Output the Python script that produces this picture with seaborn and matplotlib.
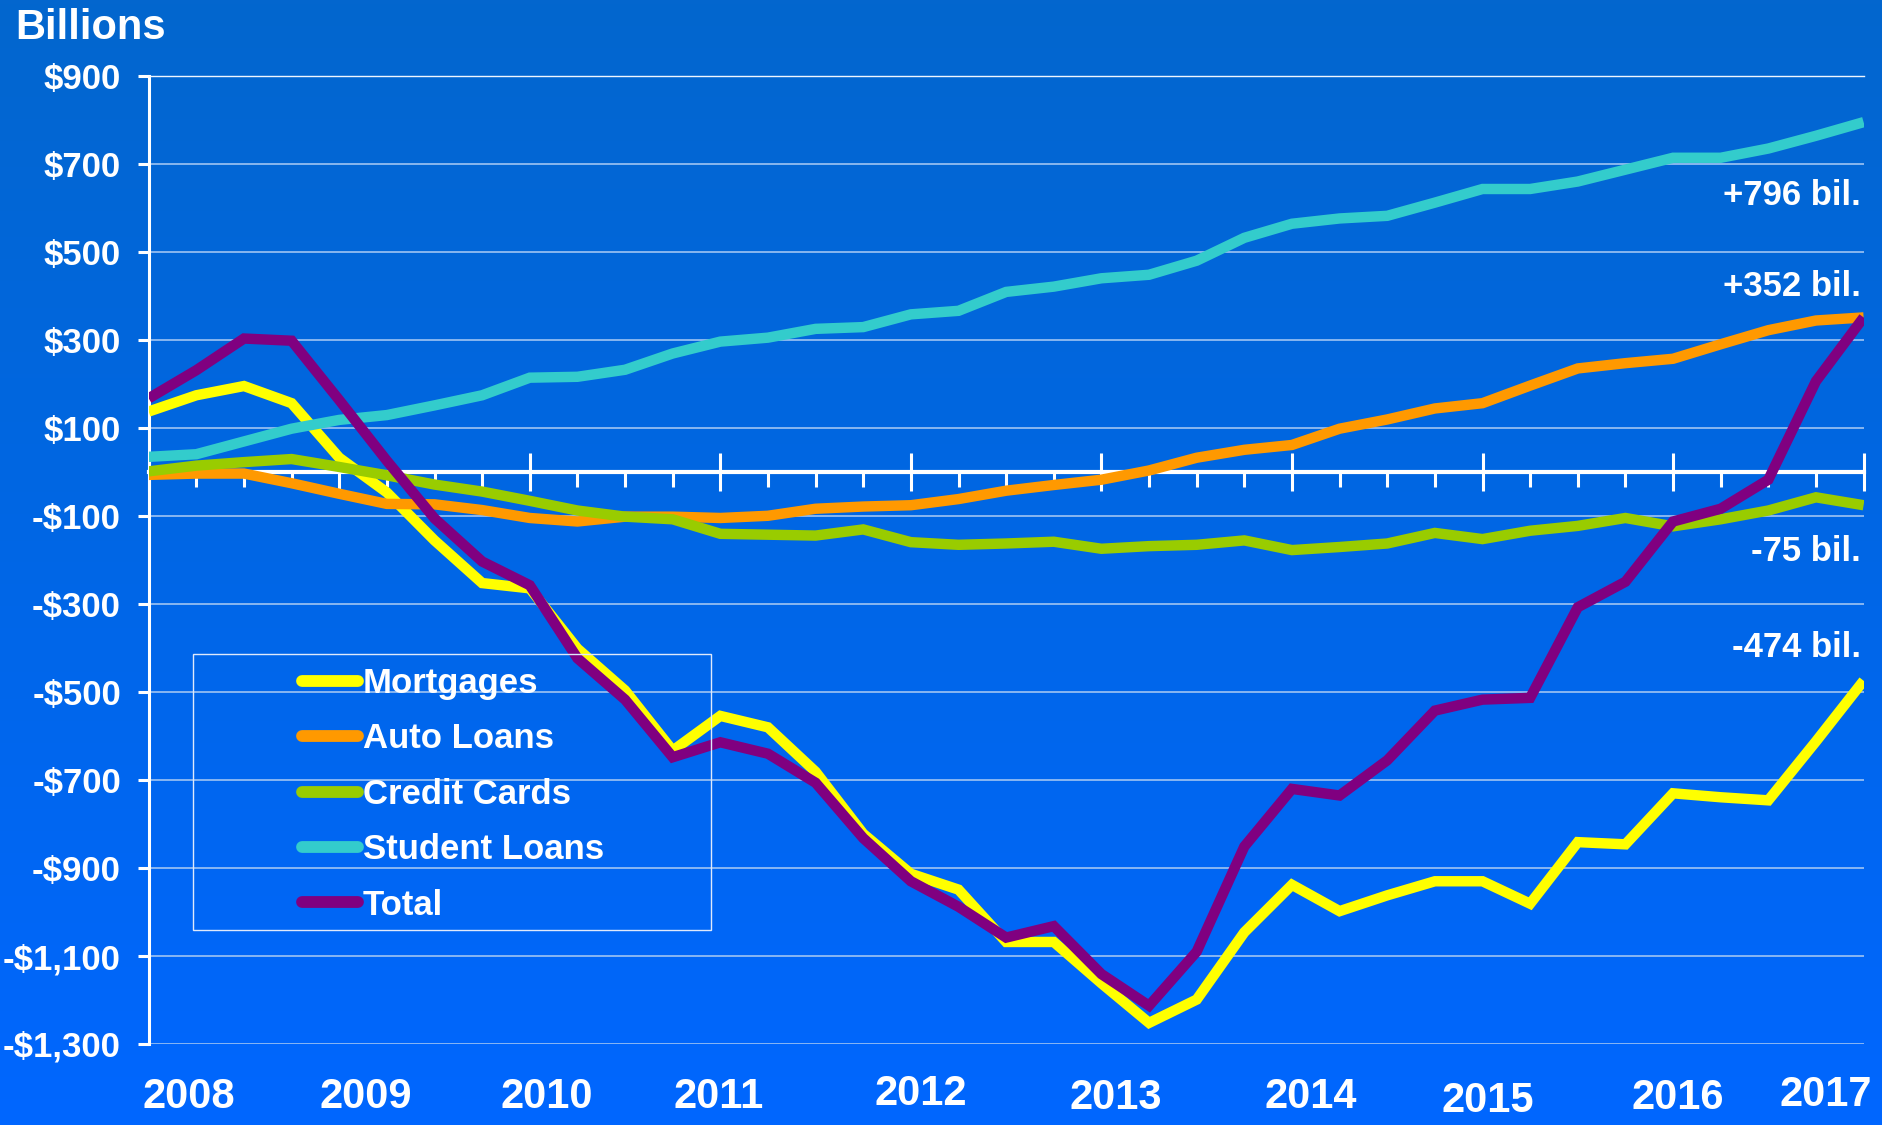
import numpy as np
import pandas as pd
import matplotlib
matplotlib.use("Agg")
import matplotlib.pyplot as plt
import matplotlib.colors as mcolors
import matplotlib.transforms as mtransforms
from matplotlib.lines import Line2D
from matplotlib.patches import Rectangle
from matplotlib.ticker import FixedLocator, FuncFormatter
import seaborn as sns

# ---------------- data (billions, change since 2008Q1, quarterly 2008Q1..2017Q1) ----------------
quarter_index = list(range(37))
year_labels = ["2008", "2009", "2010", "2011", "2012", "2013", "2014", "2015", "2016", "2017"]
series_names = ["Mortgages", "Auto Loans", "Credit Cards", "Student Loans", "Total"]

mortgages = [138, 175, 196, 157, 33, -46, -155, -252, -264, -401, -496, -633, -554, -580,
             -681, -822, -913, -949, -1068, -1068, -1162, -1252, -1199, -1046, -938, -998,
             -962, -930, -930, -981, -841, -846, -730, -739, -746, -612, -474]
auto_loans = [-6, -3, -3, -25, -49, -72, -73, -86, -104, -112, -101, -101, -104, -99, -83,
              -78, -75, -61, -42, -29, -17, 4, 33, 51, 62, 99, 120, 145, 157, 197, 236, 248,
              258, 291, 323, 345, 352]
credit_cards = [2, 15, 23, 30, 12, -7, -28, -44, -65, -87, -101, -107, -140, -142, -144, -130,
                -159, -165, -162, -158, -174, -168, -165, -155, -177, -170, -162, -138, -152,
                -133, -122, -104, -123, -107, -87, -57, -75]
student_loans = [35, 41, 70, 99, 119, 130, 152, 175, 215, 217, 233, 270, 297, 306, 326, 330,
                 359, 367, 410, 422, 441, 449, 481, 533, 565, 577, 583, 613, 644, 644, 661,
                 688, 715, 715, 736, 765, 796]
total = [168, 232, 304, 299, 164, 26, -105, -203, -257, -423, -517, -648, -614, -640, -706,
         -832, -930, -988, -1058, -1032, -1141, -1213, -1090, -851, -720, -735, -655, -542,
         -517, -513, -307, -249, -112, -83, -17, 207, 352]

end_labels = ["+796 bil.", "+352 bil.", "-75 bil.", "-474 bil."]
y_ticks = [-1300, -1100, -900, -700, -500, -300, -100, 100, 300, 500, 700, 900]

# ---------------- style ----------------
colors = ["#FFFF00", "#FF9900", "#99CC00", "#33CCCC", "#800080"]
sns.set_style("white")
plt.rcParams["font.family"] = ["Liberation Sans", "DejaVu Sans"]
plt.rcParams["font.weight"] = "bold"
plt.rcParams["xtick.bottom"] = True
plt.rcParams["ytick.left"] = True

W, H = 1883, 1125
fig = plt.figure(figsize=(W / 100, H / 100), dpi=100)

# gradient background
bg = fig.add_axes([0, 0, 1, 1], zorder=-10)
grad_cmap = mcolors.LinearSegmentedColormap.from_list("bg", ["#0366CE", "#0067E6", "#0066FF"])
bg.imshow(np.linspace(0, 1, 256).reshape(-1, 1), cmap=grad_cmap, aspect="auto",
          extent=[0, 1, 0, 1], origin="upper")
bg.set_axis_off()

# main axes (pixel geometry of the reference)
left, right, top, bottom = 148.7, 1863.6, 76.4, 1044.0
ax = fig.add_axes([left / W, 1 - bottom / H, (right - left) / W, (bottom - top) / H])
ax.set_facecolor("none")

df = pd.DataFrame({
    "quarter": quarter_index * 5,
    "value": mortgages + auto_loans + credit_cards + student_loans + total,
    "series": sum([[n] * 37 for n in series_names], []),
})
sns.lineplot(data=df, x="quarter", y="value", hue="series", hue_order=series_names,
             palette=colors, lw=7.5, legend=False, ax=ax, sort=False)
for ln in ax.lines:
    ln.set_solid_capstyle("butt")
    ln.set_solid_joinstyle("miter")
    ln.set_zorder(3)

ax.set_xlim(0, 36)
ax.set_ylim(-1300, 900)
ax.set_xlabel("")
ax.set_ylabel("")

# y axis
ax.yaxis.set_major_locator(FixedLocator(y_ticks))
ax.yaxis.set_major_formatter(FuncFormatter(
    lambda v, p: ("-$" if v < 0 else "$") + f"{abs(int(v)):,}"))
ax.tick_params(axis="y", left=True, direction="out", length=8, width=2.2, color="white",
               labelcolor="white", labelsize=25, pad=12)
for t in ax.get_yticklabels():
    t.set_fontweight("bold")
ax.yaxis.grid(True, color="#9fc4f3", lw=1.2)
ax.xaxis.grid(False)

# x axis as zero line
ax.spines["bottom"].set_position(("data", 0))
ax.spines["bottom"].set_color("white")
ax.spines["bottom"].set_linewidth(3)
ax.spines["left"].set_color("white")
ax.spines["left"].set_linewidth(2.2)
ax.spines["top"].set_color("#f0f6ff")
ax.spines["top"].set_linewidth(1.0)
ax.spines["right"].set_visible(False)
ax.xaxis.set_major_locator(FixedLocator(quarter_index[::4]))
ax.xaxis.set_minor_locator(FixedLocator([q for q in quarter_index if q % 4]))
ax.tick_params(axis="x", which="major", bottom=True, direction="inout", length=28, width=2.2,
               color="white", labelbottom=False)
ax.tick_params(axis="x", which="minor", bottom=True, direction="out", length=10.5, width=2.2,
               color="white", labelbottom=False)

# year labels at the bottom
year_label_pos = [0.85, 4.56, 8.35, 11.97, 16.2, 20.3, 24.4, 28.1, 32.1, 35.2]
year_label_dy = [0, 0, 0, 0, 3, -1, 0, -4, -1, 2]
trans = mtransforms.blended_transform_factory(ax.transData, fig.transFigure)
for xp, lab, dy in zip(year_label_pos, year_labels, year_label_dy):
    ax.text(xp, (H - 1108 + dy) / H, lab, transform=trans, ha="center", va="baseline",
            color="white", fontsize=30, fontweight="bold")

# "Billions" label
fig.text(15.6 / W, 1 - 39.3 / H, "Billions", ha="left", va="baseline",
         color="white", fontsize=30, fontweight="bold")

# end-value annotations
end_label_y = [608, 401, -202, -419]
for lab, yv in zip(end_labels, end_label_y):
    ax.text(35.95, yv, lab, ha="right", va="baseline", color="white",
            fontsize=25, fontweight="bold", zorder=5)

# legend (frameless) + separate box
handles = [Line2D([], [], color=c, lw=8.5, solid_capstyle="round") for c in colors]
leg = fig.legend(handles, series_names, loc="upper left",
                 bbox_to_anchor=(302 / W, 1 - 667 / H), frameon=False,
                 fontsize=25, handlelength=1.6, handletextpad=0.15,
                 labelspacing=0.645, borderpad=0, borderaxespad=0)
for t in leg.get_texts():
    t.set_color("white")
    t.set_fontweight("bold")
fig.patches.append(Rectangle((193 / W, 1 - 930 / H), 518 / W, 276 / H,
                             transform=fig.transFigure, fill=False,
                             edgecolor="#dfe9fb", lw=1.0))

fig.savefig("out.png", dpi=100)
